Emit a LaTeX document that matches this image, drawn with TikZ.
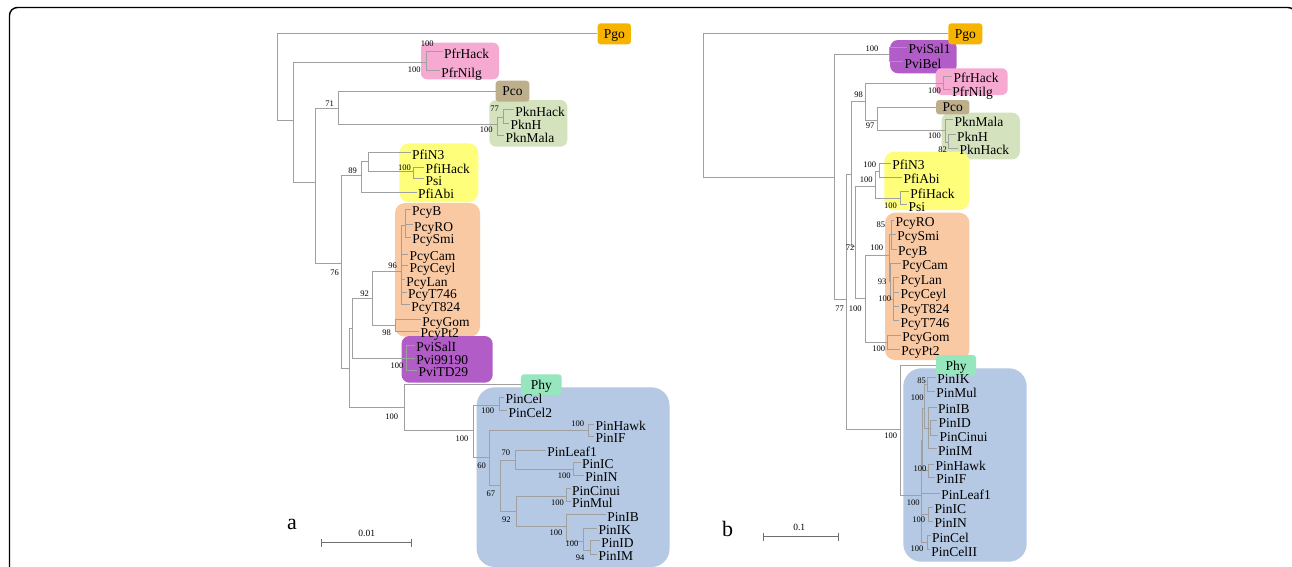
\documentclass[tikz,border=0pt]{standalone}
\usepackage{fontspec}
\setmainfont{Liberation Serif}
\definecolor{treegray}{RGB}{160,160,160}
\definecolor{barGray}{RGB}{110,110,110}
\definecolor{cPgo}{RGB}{246,180,0}
\definecolor{cPfr}{RGB}{246,170,210}
\definecolor{cPco}{RGB}{190,175,140}
\definecolor{cPkn}{RGB}{213,226,190}
\definecolor{cPfi}{RGB}{254,254,122}
\definecolor{cPcy}{RGB}{249,201,164}
\definecolor{cPvi}{RGB}{178,92,199}
\definecolor{cPhy}{RGB}{150,230,190}
\definecolor{cPin}{RGB}{181,201,228}
\begin{document}
\begin{tikzpicture}[x=1pt,y=-1pt,
  br/.style={draw=treegray,line width=0.9pt},
  leaf/.style={anchor=west,inner xsep=1.2pt,inner ysep=0pt,text height=13pt,text depth=0pt,font=\fontsize{13.5}{14}\selectfont},
  tag/.style={rounded corners=3pt,inner sep=0pt,text height=9pt,text depth=0pt,font=\fontsize{13.5}{14}\selectfont},
  bs/.style={inner sep=0pt,text height=5.8pt,text depth=0pt,font=\fontsize{8.5}{9}\selectfont},
  barline/.style={draw=barGray,line width=1.1pt},
  sclabel/.style={inner sep=0pt,font=\fontsize{9.5}{10}\selectfont},
  panel/.style={inner sep=0pt,font=\fontsize{22}{24}\selectfont}]

\useasboundingbox (0,0) rectangle (1292,566);
\clip (0,0) rectangle (1292,566);
\fill[white] (0,0) rectangle (1292,566);
\draw[line width=1.4pt,rounded corners=8pt] (9.5,7.5) rectangle (1296,620);

% ---------- clade boxes, panel a ----------
\fill[cPfr,rounded corners=6pt] (421,42.7) rectangle (499,79.3);
\fill[cPkn,rounded corners=7pt] (489.3,100) rectangle (567.3,146.7);
\fill[cPfi,rounded corners=10pt] (399.3,143.3) rectangle (478.3,202.3);
\fill[cPcy,rounded corners=10pt] (395,203) rectangle (480,336.7);
\fill[cPvi,rounded corners=8pt] (401.5,336) rectangle (492.7,382.7);
\fill[cPin,rounded corners=18pt] (476.7,387.3) rectangle (669.5,567);
% ---------- clade boxes, panel b ----------
\fill[cPvi,rounded corners=8pt] (890,40) rectangle (956.7,73.3);
\fill[cPfr,rounded corners=6pt] (935.7,68.3) rectangle (1007.7,95);
\fill[cPkn,rounded corners=8pt] (941.7,112.7) rectangle (1020,159.3);
\fill[cPfi,rounded corners=10pt] (884.3,151.7) rectangle (969.3,210);
\fill[cPcy,rounded corners=10pt] (885,212.7) rectangle (969.3,360);
\fill[cPin,rounded corners=18pt] (903.3,368.3) rectangle (1026.7,561.7);

% ---------- tagged single taxa ----------
\node[tag,fill=cPgo,minimum width=33.3pt,minimum height=21pt] (pgoA) at (614.3,33.8) {Pgo};
\node[tag,fill=cPco,minimum width=33.6pt,minimum height=21pt] (pcoA) at (512.5,91.2) {Pco};
\node[tag,fill=cPhy,minimum width=40.7pt,minimum height=20.7pt] (phyA) at (541.3,384.7) {Phy};
\node[tag,fill=cPgo,minimum width=34pt,minimum height=21pt] (pgoB) at (965.3,33.8) {Pgo};
\node[tag,fill=cPco,minimum width=33.3pt,minimum height=14.3pt] (pcoB) at (952.7,107.2) {Pco};
\node[tag,fill=cPhy,minimum width=40pt,minimum height=21pt] (phyB) at (956,365.5) {Phy};

% ---------- internal nodes, panel a ----------
\foreach \n/\x/\y in {rootA/277/76, nA1/293/120, nPfr/426/62, nA2/315/182, n71/338/108.3,
  nPkn/497/124, n77k/503/117, n76/341/263, n89/361/175, nB/368/161.7, nPH/413/171.7,
  nA3/349.3/368, nA4/352.7/328, n92/372.7/298, n96/401/271.7, nBRS/405/225, n98/395/325,
  nPvi/406/358.3, nPhyPin/404.3/407.3, nPin/473.3/430, nCel/499.3/405, n60/489.3/457.3,
  nHI/588.3/430, n67/500/485, n70/515/460, nICN/573.3/469.3, n92b/516/511.7,
  nCM/566/496.7, nIB/566/526.7, nIK/583.3/541.7, n94/590/550}
  \coordinate (\n) at (\x,\y);

% ---------- internal nodes, panel b ----------
\foreach \n/\x/\y in {rootB/703.3/105, nR1/834/177, nPviB/889.3/54.7, nR2/846.7/299,
  nU/851.7/174, n98b/865/101.7, nPfrB/943.3/83.3, n97/877.7/120, nPknB/945/130.5,
  n82/948/142, n72/855.7/246, nPfiB/875/186.7, nN3Abi/879.3/171.7, nHPsi/900/198,
  nPcyB/865/298.3, nP100a/889.3/255, nRSB/891/234.5, nCamG/890.5/281.7, nLan/893.3/299,
  nGP/887.3/342, nPhyPinB/900/429, nQ/921/495, nABC/922.5/440, nAB/924.5/408,
  nA/927/384.3, nBg/928/428, nDC/930.5/428, nC/928/470.6, nD/928/514.2, nE/927/542.7}
  \coordinate (\n) at (\x,\y);

% ---------- leaves, panel a ----------
\foreach \n/\x/\y/\t in {lPfrHack/442.7/51.5/PfrHack, lPfrNilg/440/70.7/PfrNilg,
  lPknHack/514/109.7/PknHack, lPknH/509.3/123/PknH, lPknMala/504.3/135.7/PknMala,
  lPfiN3/410.7/152.5/PfiN3, lPfiHack/424.3/167/PfiHack, lPsi/424.3/178.5/Psi,
  lPfiAbi/416.7/192/PfiAbi,
  lPcyB/410.7/209/PcyB, lPcyRO/412.7/224.7/PcyRO, lPcySmi/411/237/PcySmi,
  lPcyCam/408.3/254/PcyCam, lPcyCeyl/408.3/265.7/PcyCeyl, lPcyLan/405/279.7/PcyLan,
  lPcyT746/406.7/292.3/PcyT746, lPcyT824/410/304.7/PcyT824,
  lPcyGom/421/319.5/PcyGom, lPcyPt2/419.3/331/PcyPt2,
  lPviSalI/415/345.3/PviSalI, lPvi99190/415/358/Pvi99190, lPviTD29/417.3/370.3/PviTD29,
  lPinCel/504.3/397.3/PinCel, lPinCel2/507.3/410.7/PinCel2,
  lPinHawk/594.3/424/PinHawk, lPinIF/594.3/436.3/PinIF,
  lPinLeaf1/546/450/PinLeaf1, lPinIC/580.7/462.3/PinIC, lPinIN/584/475.3/PinIN,
  lPinCinui/570.7/488.7/PinCinui, lPinMul/570.7/501.3/PinMul,
  lPinIB/606/514.7/PinIB, lPinIK/597.3/528/PinIK, lPinID/600/540.7/PinID,
  lPinIM/597.3/554/PinIM}
  \node[leaf] (\n) at (\x,\y) {\t};

% ---------- leaves, panel b ----------
\foreach \n/\x/\y/\t in {rPviSal1/907.3/47.3/PviSal1, rPviBel/903.3/61.7/PviBel,
  rPfrHack/952.3/76.2/PfrHack, rPfrNilg/951/89.5/PfrNilg,
  rPknMala/953.3/119.5/PknMala, rPknH/955.7/134.5/PknH, rPknHack/958.3/148/PknHack,
  rPfiN3/891/163.3/PfiN3, rPfiAbi/902.3/177.3/PfiAbi, rPfiHack/909/191.5/PfiHack,
  rPsi/907.3/204.5/Psi,
  rPcyRO/894.3/220/PcyRO, rPcySmi/896/234.3/PcySmi, rPcyB/896.7/249/PcyB,
  rPcyCam/900.7/263.3/PcyCam, rPcyLan/899.3/277.6/PcyLan, rPcyCeyl/899.3/292.3/PcyCeyl,
  rPcyT824/899.3/306.6/PcyT824, rPcyT746/899.3/320.6/PcyT746,
  rPcyGom/901/335/PcyGom, rPcyPt2/900/349/PcyPt2,
  rPinIK/936/377.3/PinIK, rPinMul/935/391.3/PinMul, rPinIB/936.7/407/PinIB,
  rPinID/937.3/420.7/PinID, rPinCinui/938.3/435.3/PinCinui, rPinIM/936.7/448.7/PinIM,
  rPinHawk/934.3/464/PinHawk, rPinIF/935/477.3/PinIF, rPinLeaf1/940/493.3/PinLeaf1,
  rPinIC/933.3/507/PinIC, rPinIN/933.3/521.3/PinIN, rPinCel/930.7/535.7/PinCel,
  rPinCelII/930/549.7/PinCelII}
  \node[leaf] (\n) at (\x,\y) {\t};

% ---------- branches, panel a ----------
\foreach \p/\c in {rootA/pgoA.west, rootA/nA1, nA1/nPfr, nA1/nA2,
  nPfr/lPfrHack.west, nPfr/lPfrNilg.west, nA2/n71, nA2/n76,
  n71/pcoA.west, n71/nPkn, nPkn/n77k, nPkn/lPknMala.west,
  n77k/lPknHack.west, n77k/lPknH.west, n76/n89, n76/nA3,
  n89/nB, n89/lPfiAbi.west, nB/lPfiN3.west, nB/nPH,
  nPH/lPfiHack.west, nPH/lPsi.west, nA3/nA4, nA3/nPhyPin,
  nA4/n92, nA4/nPvi, n92/n96, n92/n98,
  n96/nBRS, n96/lPcyCam.west, n96/lPcyCeyl.west, n96/lPcyLan.west,
  n96/lPcyT746.west, n96/lPcyT824.west,
  nBRS/lPcyB.west, nBRS/lPcyRO.west, nBRS/lPcySmi.west,
  n98/lPcyGom.west, n98/lPcyPt2.west,
  nPvi/lPviSalI.west, nPvi/lPvi99190.west, nPvi/lPviTD29.west,
  nPhyPin/phyA.west, nPhyPin/nPin, nPin/nCel, nPin/n60,
  nCel/lPinCel.west, nCel/lPinCel2.west, n60/nHI, n60/n67,
  nHI/lPinHawk.west, nHI/lPinIF.west, n67/n70, n67/n92b,
  n70/lPinLeaf1.west, n70/nICN, nICN/lPinIC.west, nICN/lPinIN.west,
  n92b/nCM, n92b/nIB, nCM/lPinCinui.west, nCM/lPinMul.west,
  nIB/lPinIB.west, nIB/nIK, nIK/lPinIK.west, nIK/n94,
  n94/lPinID.west, n94/lPinIM.west}
  \draw[br] (\p) |- (\c);

% ---------- branches, panel b ----------
\foreach \p/\c in {rootB/pgoB.west, rootB/nR1, nR1/nPviB, nR1/nR2,
  nPviB/rPviSal1.west, nPviB/rPviBel.west, nR2/nU, nR2/nPhyPinB,
  nU/n98b, nU/n72, n98b/nPfrB, n98b/n97,
  nPfrB/rPfrHack.west, nPfrB/rPfrNilg.west, n97/pcoB.west, n97/nPknB,
  nPknB/rPknMala.west, nPknB/n82, n82/rPknH.west, n82/rPknHack.west,
  n72/nPfiB, n72/nPcyB, nPfiB/nN3Abi, nPfiB/nHPsi,
  nN3Abi/rPfiN3.west, nN3Abi/rPfiAbi.west, nHPsi/rPfiHack.west, nHPsi/rPsi.west,
  nPcyB/nP100a, nPcyB/nGP, nP100a/nRSB, nP100a/nCamG,
  nRSB/rPcyRO.west, nRSB/rPcySmi.west, nRSB/rPcyB.west,
  nCamG/rPcyCam.west, nCamG/nLan,
  nLan/rPcyLan.west, nLan/rPcyCeyl.west, nLan/rPcyT824.west, nLan/rPcyT746.west,
  nGP/rPcyGom.west, nGP/rPcyPt2.west,
  nPhyPinB/phyB.west, nPhyPinB/nQ,
  nQ/nABC, nQ/rPinLeaf1.west, nQ/nD, nQ/nE,
  nABC/nAB, nABC/nC, nAB/nA, nAB/nBg,
  nA/rPinIK.west, nA/rPinMul.west,
  nBg/rPinIB.west, nBg/nDC, nBg/rPinIM.west,
  nDC/rPinID.west, nDC/rPinCinui.west,
  nC/rPinHawk.west, nC/rPinIF.west,
  nD/rPinIC.west, nD/rPinIN.west,
  nE/rPinCel.west, nE/rPinCelII.west}
  \draw[br] (\p) |- (\c);

% ---------- bootstrap values, panel a ----------
\foreach \x/\y/\t [count=\i] in {427.3/43.3/100, 414.2/69.3/100, 329.5/104/71,
  494.5/109/77, 486.3/129.3/100, 352.5/171/89, 404.5/168/100, 334.5/272.7/76,
  392.5/266/96, 364.5/294/92, 386.7/333/98, 397/365.7/100, 391.7/416.7/100,
  462/438.3/100, 487.7/410.7/100, 577.8/423.3/100, 481.7/465.7/60, 490.8/493.3/67,
  505.8/452.3/70, 564.2/476/100, 506.3/519.3/92, 557.5/502.7/100, 556/532.7/100,
  572/544/100, 580.2/557.3/94}
  \node[bs] (bA\i) at (\x,\y) {\t};

% ---------- bootstrap values, panel b ----------
\foreach \x/\y/\t [count=\i] in {872/48.3/100, 858.7/95/98, 870/126/97,
  934.5/91/100, 934.5/136/100, 942.5/149.3/82, 869.7/165/100, 866.3/179.3/100,
  890.5/205.7/100, 880.8/225/85, 850/247.7/72, 876.7/247.7/100, 882.2/281.7/93,
  884.7/298.3/100, 839.5/308.3/77, 855.3/308.3/100, 878.8/349/100,
  921.7/380.7/85, 917.2/397.3/100, 890.8/436/100, 920/468.3/100, 913.3/502.7/100,
  918.8/520/100, 917/548.3/100}
  \node[bs] (bB\i) at (\x,\y) {\t};

% ---------- scale bars and panel letters ----------
\coordinate (sa1) at (321.7,542.7);
\coordinate (sa2) at (411.7,542.7);
\draw[barline] (sa1) -- (sa2);
\draw[barline] ([yshift=4pt]sa1) -- ([yshift=-4pt]sa1);
\draw[barline] ([yshift=4pt]sa2) -- ([yshift=-4pt]sa2);
\node[sclabel] (sla) at (366.7,533.3) {0.01};
\coordinate (sb1) at (763.3,536.7);
\coordinate (sb2) at (838.3,536.7);
\draw[barline] (sb1) -- (sb2);
\draw[barline] ([yshift=4pt]sb1) -- ([yshift=-4pt]sb1);
\draw[barline] ([yshift=4pt]sb2) -- ([yshift=-4pt]sb2);
\node[sclabel] (slb) at (799.3,527.3) {0.1};
\node[panel] (pa) at (292,524.5) {a};
\node[panel] (pb) at (727.7,529) {b};
\end{tikzpicture}
\end{document}
